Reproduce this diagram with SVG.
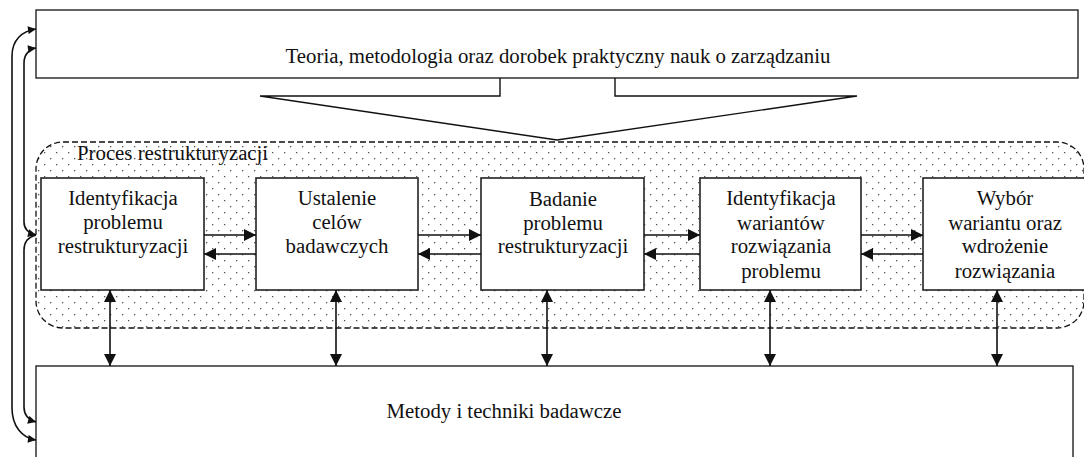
<svg xmlns="http://www.w3.org/2000/svg" width="1084" height="457" viewBox="0 0 1084 457">
  <defs>
    <style>
      text { font-family: "Liberation Serif", "Times New Roman", serif; font-size: 20.8px; fill: #111; }
      .lbl { text-anchor: middle; }
      .box { fill: #fff; stroke: #222; stroke-width: 1.6; }
      .frame { fill: #fff; stroke: #222; stroke-width: 1.4; }
      .link { fill: none; stroke: #111; stroke-width: 1.6; }
      .thin { fill: none; stroke: #111; stroke-width: 1.4; }
    </style>
    <pattern id="dots" width="12" height="12" patternUnits="userSpaceOnUse">
      <rect x="2" y="2" width="1.3" height="1.3" fill="#555"/>
      <rect x="8" y="8" width="1.3" height="1.3" fill="#555"/>
    </pattern>
    <marker id="ah" viewBox="0 0 12 12" refX="12" refY="6" markerWidth="13" markerHeight="12" markerUnits="userSpaceOnUse" orient="auto-start-reverse">
      <path d="M0,0 L12,6 L0,12 z" fill="#111"/>
    </marker>
    <marker id="as" viewBox="0 0 10 10" refX="10" refY="5" markerWidth="9" markerHeight="8" markerUnits="userSpaceOnUse" orient="auto-start-reverse">
      <path d="M0,0 L10,5 L0,10 z" fill="#111"/>
    </marker>
  </defs>

  <!-- process area -->
  <g id="process">
    <rect x="36" y="142" width="1048" height="186" rx="27" ry="27" fill="url(#dots)" stroke="#111" stroke-width="1.3" stroke-dasharray="6 3"/>
    <text x="77" y="160">Proces restrukturyzacji</text>
  </g>

  <!-- theory block with its pointer -->
  <g id="theory">
    <rect class="frame" x="36" y="10" width="1042" height="68"/>
    <text class="lbl" x="558" y="63">Teoria, metodologia oraz dorobek praktyczny nauk o zarządzaniu</text>
    <path class="thin" d="M500,78 V96 H260 L557,140 L857,96 H615 V78"/>
  </g>

  <!-- methods block -->
  <g id="methods">
    <rect class="frame" x="36" y="366" width="1037" height="110"/>
    <text class="lbl" x="504" y="418">Metody i techniki badawcze</text>
  </g>

  <!-- process steps -->
  <g id="step1">
    <rect class="box" x="41" y="178" width="163" height="112"/>
    <text class="lbl" x="123" y="205">Identyfikacja</text>
    <text class="lbl" x="123" y="229">problemu</text>
    <text class="lbl" x="123" y="253">restrukturyzacji</text>
  </g>
  <g id="step2">
    <rect class="box" x="256" y="178" width="162" height="112"/>
    <text class="lbl" x="337" y="205">Ustalenie</text>
    <text class="lbl" x="337" y="229">celów</text>
    <text class="lbl" x="337" y="253">badawczych</text>
  </g>
  <g id="step3">
    <rect class="box" x="481" y="178" width="163" height="112"/>
    <text class="lbl" x="563" y="206">Badanie</text>
    <text class="lbl" x="563" y="230">problemu</text>
    <text class="lbl" x="563" y="253">restrukturyzacji</text>
  </g>
  <g id="step4">
    <rect class="box" x="700" y="178" width="161" height="112"/>
    <text class="lbl" x="781" y="205">Identyfikacja</text>
    <text class="lbl" x="781" y="230">wariantów</text>
    <text class="lbl" x="781" y="253">rozwiązania</text>
    <text class="lbl" x="781" y="278">problemu</text>
  </g>
  <g id="step5">
    <rect class="box" x="923" y="178" width="164" height="112"/>
    <text class="lbl" x="1005" y="205">Wybór</text>
    <text class="lbl" x="1005" y="230">wariantu oraz</text>
    <text class="lbl" x="1005" y="253">wdrożenie</text>
    <text class="lbl" x="1005" y="278">rozwiązania</text>
  </g>

  <!-- connectors -->
  <g id="connectors">
    <!-- forward / backward between steps -->
    <line class="link" x1="204" y1="235" x2="256" y2="235" marker-end="url(#ah)"/>
    <line class="link" x1="256" y1="254" x2="204" y2="254" marker-end="url(#ah)"/>
    <line class="link" x1="418" y1="235" x2="481" y2="235" marker-end="url(#ah)"/>
    <line class="link" x1="481" y1="254" x2="418" y2="254" marker-end="url(#ah)"/>
    <line class="link" x1="644" y1="235" x2="700" y2="235" marker-end="url(#ah)"/>
    <line class="link" x1="700" y1="254" x2="644" y2="254" marker-end="url(#ah)"/>
    <line class="link" x1="861" y1="235" x2="923" y2="235" marker-end="url(#ah)"/>
    <line class="link" x1="923" y1="254" x2="861" y2="254" marker-end="url(#ah)"/>

    <!-- steps to methods -->
    <line class="link" x1="110" y1="290" x2="110" y2="366" marker-start="url(#ah)" marker-end="url(#ah)"/>
    <line class="link" x1="336" y1="290" x2="336" y2="366" marker-start="url(#ah)" marker-end="url(#ah)"/>
    <line class="link" x1="547" y1="290" x2="547" y2="366" marker-start="url(#ah)" marker-end="url(#ah)"/>
    <line class="link" x1="770" y1="290" x2="770" y2="366" marker-start="url(#ah)" marker-end="url(#ah)"/>
    <line class="link" x1="997" y1="290" x2="997" y2="366" marker-start="url(#ah)" marker-end="url(#ah)"/>

    <!-- outer loop: methods and theory -->
    <path class="link" d="M36,440 C22,438 12,426 12,408 V56 C12,40 22,31 36,29" marker-start="url(#as)" marker-end="url(#as)"/>
    <!-- inner loop: process to theory and methods -->
    <path class="link" d="M36,48 C29,49 24,55 24,63 V222 C24,229 28,233 36,235" marker-start="url(#as)" marker-end="url(#as)"/>
    <path class="link" d="M36,235 C28,237 24,242 24,250 V407 C24,415 29,420 36,422" marker-end="url(#as)"/>
  </g>
</svg>
